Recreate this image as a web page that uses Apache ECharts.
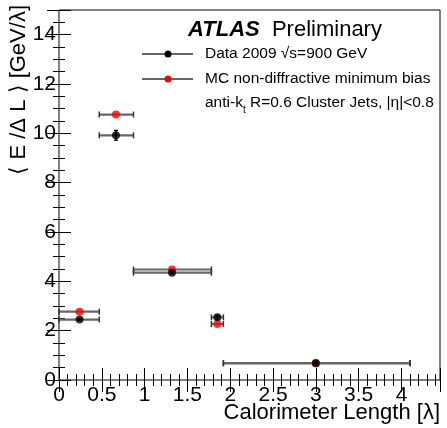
<!DOCTYPE html>
<html>
<head>
<meta charset="utf-8">
<script src="https://cdn.jsdelivr.net/npm/echarts@6/dist/echarts.min.js"></script>
<style>
html,body{margin:0;padding:0;background:#fff;}
#c{width:447px;height:428px;}
</style>
</head>
<body>
<div id="c"></div>
<script>
// ---- data ----
const xCenter = [0.24, 0.665, 1.32, 1.85, 3.0];
const xLow    = [0.0, 0.47, 0.87, 1.78, 1.92];
const xHigh   = [0.47, 0.87, 1.78, 1.92, 4.1];
const dataY    = [2.45, 9.92, 4.35, 2.54, 0.69];
const dataYErr = [0.03, 0.2, 0.05, 0.08, 0.03];
const mcY      = [2.77, 10.76, 4.48, 2.27, 0.67];
const mcYErr   = [0.0, 0.0, 0.0, 0.0, 0.0];
const xTickLabels = ['0','0.5','1','1.5','2','2.5','3','3.5','4'];
const yTickLabels = ['0','2','4','6','8','10','12','14'];

const FONT = '"Liberation Sans", Arial, Helvetica, sans-serif';

function rows(yv, ye) {
  return xCenter.map((x, i) => [x, yv[i], xLow[i], xHigh[i], ye[i]]);
}

function errRender(params, api) {
  const x = api.value(0), y = api.value(1), lo = api.value(2), hi = api.value(3), ye = api.value(4);
  const pL = api.coord([lo, y]), pR = api.coord([hi, y]);
  const children = [];
  children.push({type:'line', shape:{x1:pL[0], y1:pL[1], x2:pR[0], y2:pR[1]}, style:{stroke:'#666', lineWidth:2.2}});
  children.push({type:'line', shape:{x1:pL[0], y1:pL[1]-3, x2:pL[0], y2:pL[1]+3}, style:{stroke:'#333', lineWidth:1.5}});
  children.push({type:'line', shape:{x1:pR[0], y1:pR[1]-3, x2:pR[0], y2:pR[1]+3}, style:{stroke:'#333', lineWidth:1.5}});
  if (ye > 0) {
    const pB = api.coord([x, y - ye]), pT = api.coord([x, y + ye]);
    children.push({type:'line', shape:{x1:pB[0], y1:pB[1], x2:pT[0], y2:pT[1]}, style:{stroke:'#000', lineWidth:1.5}});
    children.push({type:'line', shape:{x1:pB[0]-2, y1:pB[1], x2:pB[0]+2, y2:pB[1]}, style:{stroke:'#000', lineWidth:1.2}});
    children.push({type:'line', shape:{x1:pT[0]-2, y1:pT[1], x2:pT[0]+2, y2:pT[1]}, style:{stroke:'#000', lineWidth:1.2}});
  }
  return {type:'group', children};
}

const xAxisBase = {
  type:'value', min:0, max:4.45, interval:0.5,
  axisLine:{show:false},
  axisTick:{show:true, inside:true, length:12, lineStyle:{color:'#000', width:1}},
  minorTick:{show:true, splitNumber:5, length:6, lineStyle:{color:'#000', width:1}},
  splitLine:{show:false}, minorSplitLine:{show:false}
};
const yAxisBase = {
  type:'value', min:0, max:15, interval:2,
  axisLine:{show:false},
  axisTick:{show:true, inside:true, length:12, lineStyle:{color:'#000', width:1}},
  minorTick:{show:true, splitNumber:4, length:6, lineStyle:{color:'#000', width:1}},
  splitLine:{show:false}, minorSplitLine:{show:false}
};

function fmtX(v){ const i = Math.round(v/0.5); return (Math.abs(v - i*0.5) < 1e-6 && i < xTickLabels.length) ? xTickLabels[i] : ''; }
function fmtY(v){ const i = Math.round(v/2); return (Math.abs(v - i*2) < 1e-6 && i < yTickLabels.length) ? yTickLabels[i] : ''; }

const chart = echarts.init(document.getElementById('c'), null, {renderer:'canvas'});
chart.setOption({
  animation:false,
  backgroundColor:'#fff',
  grid:{left:59, right:7, top:10, bottom:48, show:true, borderColor:'#000', borderWidth:1, backgroundColor:'transparent'},
  xAxis:[
    Object.assign({}, xAxisBase, {position:'bottom',
      axisLabel:{show:true, formatter:fmtX, color:'#000', fontFamily:FONT, fontSize:21, margin:5, showMaxLabel:false}}),
    Object.assign({}, xAxisBase, {position:'top', axisLabel:{show:false}})
  ],
  yAxis:[
    Object.assign({}, yAxisBase, {position:'left',
      axisLabel:{show:true, formatter:fmtY, color:'#000', fontFamily:FONT, fontSize:21, margin:3, showMaxLabel:false}}),
    Object.assign({}, yAxisBase, {position:'right', axisLabel:{show:false}})
  ],
  series:[
    {type:'custom', renderItem:errRender, data:rows(mcY, mcYErr), encode:{x:0, y:1}, z:2, silent:true},
    {type:'scatter', data:xCenter.map((x,i)=>[x, mcY[i]]), symbol:'circle', symbolSize:8, itemStyle:{color:'#ff0000'}, z:3, silent:true},
    {type:'custom', renderItem:errRender, data:rows(dataY, dataYErr), encode:{x:0, y:1}, z:4, silent:true},
    {type:'scatter', data:xCenter.map((x,i)=>[x, dataY[i]]), symbol:'circle', symbolSize:8, itemStyle:{color:'#000'}, z:5, silent:true}
  ],
  graphic:[
    // y-axis title
    {type:'text', x:19, y:5, rotation:Math.PI/2,
      style:{text:'\u27E8 E /\u0394 L \u27E9 [GeV/\u03BB]', fontFamily:FONT, fontSize:22, fill:'#000', align:'right', verticalAlign:'middle'}},
    // x-axis title
    {type:'text', x:440, y:413,
      style:{text:'Calorimeter Length [\u03BB]', fontFamily:FONT, fontSize:22, fill:'#000', align:'right', verticalAlign:'middle'}},
    // ATLAS Preliminary
    {type:'text', x:188, y:30,
      style:{text:'{a|ATLAS}{p|  Preliminary}', verticalAlign:'middle', align:'left',
        rich:{a:{fontFamily:FONT, fontSize:22, fontWeight:'bold', fontStyle:'italic', fill:'#000'},
              p:{fontFamily:FONT, fontSize:22, fill:'#000'}}}},
    // legend: data
    {type:'line', shape:{x1:142, y1:54, x2:193, y2:54}, style:{stroke:'#333', lineWidth:1.5}},
    {type:'circle', shape:{cx:168, cy:54, r:3.5}, style:{fill:'#000'}},
    {type:'text', x:205, y:54, style:{text:'Data 2009 \u221As=900 GeV', fontFamily:FONT, fontSize:15.5, fill:'#000', verticalAlign:'middle'}},
    // legend: MC
    {type:'line', shape:{x1:142, y1:79, x2:193, y2:79}, style:{stroke:'#333', lineWidth:1.5}},
    {type:'circle', shape:{cx:168, cy:79, r:3.5}, style:{fill:'#ff0000'}},
    {type:'text', x:205, y:79, style:{text:'MC non-diffractive minimum bias', fontFamily:FONT, fontSize:15.5, fill:'#000', verticalAlign:'middle'}},
    // jet description
    {type:'text', x:205, y:103,
      style:{text:'{n|anti-k}{s|t}{n| R=0.6 Cluster Jets, |\u03B7|<0.8}', verticalAlign:'middle',
        rich:{n:{fontFamily:FONT, fontSize:15.5, fill:'#000', lineHeight:24, verticalAlign:'middle'},
              s:{fontFamily:FONT, fontSize:10, fill:'#000', lineHeight:24, verticalAlign:'bottom'}}}}
  ]
});
</script>
</body>
</html>
